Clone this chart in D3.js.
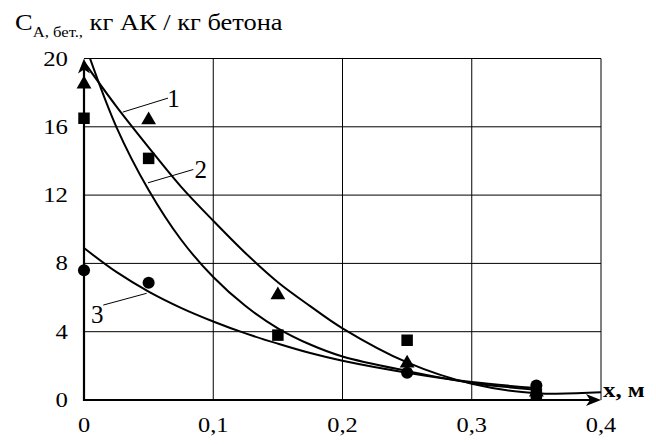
<!DOCTYPE html>
<html><head><meta charset="utf-8">
<script src="https://cdn.jsdelivr.net/npm/d3@7"></script>
<style>body{margin:0;background:#fff}svg{display:block}</style>
</head><body>
<svg id="c" width="656" height="444" font-family="'Liberation Serif', 'Times New Roman', Times, 'DejaVu Serif', serif"></svg>
<script>
// ---- data ----
const xTicks = [0, 0.1, 0.2, 0.3, 0.4];
const yTicks = [0, 4, 8, 12, 16, 20];
const pointX = [0, 0.05, 0.15, 0.25, 0.35];
const triangles = [18.5, 16.4, 6.15, 2.15, 0.45];       // series 1
const squares   = [16.5, 14.15, 3.8, 3.5, 0.35];        // series 2
const circlesX  = [0, 0.05, 0.25, 0.35];
const circles   = [7.6, 6.87, 1.6, 0.85];               // series 3
const curveX1 = [0, 0.025, 0.05, 0.075, 0.1, 0.125, 0.15, 0.175, 0.2, 0.25, 0.3, 0.35, 0.4];
const curve1  = [19.8, 17.2, 14.8, 12.5, 10.5, 8.6, 6.9, 5.5, 4.2, 2.2, 0.95, 0.4, 0.45];
const curveX2 = [0, 0.025, 0.05, 0.075, 0.1, 0.125, 0.15, 0.175, 0.2, 0.25, 0.3, 0.35];
const curve2  = [21.0, 16.0, 12.3, 9.4, 7.2, 5.5, 4.2, 3.25, 2.55, 1.7, 1.0, 0.6];
const curve3  = [8.9, 7.5, 6.35, 5.4, 4.6, 3.9, 3.3, 2.75, 2.3, 1.6, 1.05, 0.7];
const curveLabels = ["1", "2", "3"];

const svg = d3.select("#c");
const x = d3.scaleLinear().domain([0, 0.4]).range([84, 601]);
const y = d3.scaleLinear().domain([0, 20]).range([400, 58.5]);
const place = (sel, px, py, sx) => sel.attr("transform", `translate(${px},${py}) scale(${sx},1)`);

// grid
const g = svg.append("g");
g.selectAll(".vg").data(xTicks.slice(1)).join("line")
  .attr("x1", d => x(d)).attr("x2", d => x(d)).attr("y1", y(0)).attr("y2", y(20))
  .attr("stroke", "#000").attr("stroke-width", 1);
g.selectAll(".hg").data(yTicks.slice(1)).join("line")
  .attr("x1", x(0)).attr("x2", x(0.4)).attr("y1", d => y(d)).attr("y2", d => y(d))
  .attr("stroke", "#000").attr("stroke-width", 1);

// axes (thick)
svg.append("line").attr("x1", x(0)).attr("x2", x(0)).attr("y1", y(0)+1).attr("y2", y(20)+3)
  .attr("stroke", "#000").attr("stroke-width", 2.2);
svg.append("line").attr("x1", x(0)-1).attr("x2", x(0.4)-4).attr("y1", y(0)).attr("y2", y(0))
  .attr("stroke", "#000").attr("stroke-width", 2.2);
// arrowheads
const ax = x(0), ay = y(20);
svg.append("path").attr("d", `M${ax},${ay} L${ax+6},${ay+15} L${ax},${ay+11} L${ax-6},${ay+15} Z`).attr("fill", "#000");
const bx = x(0.4), by = y(0);
svg.append("path").attr("d", `M${bx},${by} L${bx-15},${by-6} L${bx-11},${by} L${bx-15},${by+6} Z`).attr("fill", "#000");

// tick labels
svg.selectAll(".yt").data(yTicks).join("text")
  .each(function(d) { place(d3.select(this), 68, y(d) + 7, 1.18); })
  .attr("text-anchor", "end").attr("font-size", 21).text(d => d);
const fmt = d => d === 0 ? "0" : d3.format(".1f")(d).replace(".", ",");
svg.selectAll(".xt").data(xTicks).join("text")
  .each(function(d) { place(d3.select(this), x(d), 432, 1.16); })
  .attr("text-anchor", "middle").attr("font-size", 21).text(fmt);

// title
const t = place(svg.append("text"), 15, 30, 1.15).attr("font-size", 23);
t.append("tspan").text("C");
t.append("tspan").attr("font-size", 14.5).attr("dy", 7).text("A, бет.,");
t.append("tspan").attr("dy", -7).text(" кг АК / кг бетона");

place(svg.append("text"), 603, 397, 1.18).attr("font-size", 21).attr("font-weight", "bold").text("x, м");

// curves
svg.append("clipPath").attr("id", "pc").append("rect")
  .attr("x", x(0)).attr("y", y(20)).attr("width", x(0.4) - x(0)).attr("height", y(0) - y(20) + 2);
const line = d3.line().x(d => x(d[0])).y(d => y(d[1])).curve(d3.curveCatmullRom.alpha(0.5));
const cg = svg.append("g").attr("clip-path", "url(#pc)");
[[curveX1, curve1], [curveX2, curve2], [curveX2, curve3]].forEach(([xs, ys]) => {
  cg.append("path").attr("d", line(xs.map((v, i) => [v, ys[i]])))
    .attr("fill", "none").attr("stroke", "#000").attr("stroke-width", 2);
});

// markers
const sym = (type, size) => d3.symbol().type(type).size(size)();
svg.selectAll(".tri").data(pointX.map((v, i) => [v, triangles[i]])).join("path")
  .attr("d", sym(d3.symbolTriangle, 95))
  .attr("transform", d => `translate(${x(d[0])},${y(d[1])})`).attr("fill", "#000");
svg.selectAll(".sq").data(pointX.map((v, i) => [v, squares[i]])).join("path")
  .attr("d", sym(d3.symbolSquare, 132))
  .attr("transform", d => `translate(${x(d[0])},${y(d[1])})`).attr("fill", "#000");
svg.selectAll(".ci").data(circlesX.map((v, i) => [v, circles[i]])).join("path")
  .attr("d", sym(d3.symbolCircle, 115))
  .attr("transform", d => `translate(${x(d[0])},${y(d[1])})`).attr("fill", "#000");

// curve labels with leader lines (anchored in data space)
const labelPos = [
  {from: [0.030, 16.86], to: [0.065, 17.68], text: [0.0645, 17.15]},
  {from: [0.0495, 12.72], to: [0.0846, 13.5], text: [0.0855, 13.0]},
  {from: [0.0485, 6.25], to: [0.0149, 5.56], text: [0.0055, 4.5]}
];
labelPos.forEach((p, i) => {
  svg.append("line").attr("x1", x(p.from[0])).attr("y1", y(p.from[1]))
    .attr("x2", x(p.to[0])).attr("y2", y(p.to[1])).attr("stroke", "#000").attr("stroke-width", 1);
  svg.append("text").attr("x", x(p.text[0])).attr("y", y(p.text[1]))
    .attr("font-size", 25).text(curveLabels[i]);
});
</script>
</body></html>
